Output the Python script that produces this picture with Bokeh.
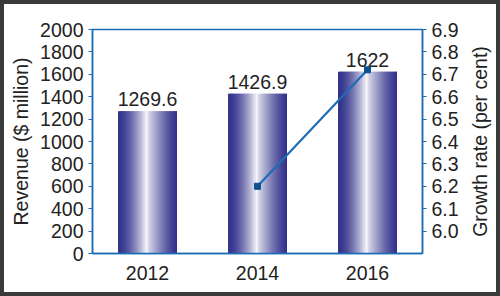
from bokeh.plotting import figure
from bokeh.layouts import row
from bokeh.models import (FactorRange, Range1d, LinearAxis, FixedTicker,
                          PrintfTickFormatter, ColumnDataSource, Title)
from bokeh.transform import dodge
from bokeh.core.properties import value
from bokeh.embed import file_html
from bokeh.resources import INLINE

years = ["2012", "2014", "2016"]
revenue = [1269.6, 1426.9, 1622.0]
revenue_labels = ["1269.6", "1426.9", "1622"]
growth_years = ["2014", "2016"]
growth = [6.2, 6.72]
left_ticks = [0, 200, 400, 600, 800, 1000, 1200, 1400, 1600, 1800, 2000]
right_ticks = [6.0, 6.1, 6.2, 6.3, 6.4, 6.5, 6.6, 6.7, 6.8, 6.9]
right_title = "Growth rate (per cent)"

FONT = "Liberation Sans"
FS = "19.5px"
AXIS_BLUE = "#1b6db5"
TEXT = "#222222"

p = figure(x_range=FactorRange(*years), y_range=Range1d(0, 2000),
           width=462, height=288, frame_width=330, frame_height=224,
           min_border_left=88, min_border_right=44, min_border_top=25, min_border_bottom=39,
           output_backend="svg", toolbar_location=None)
p.background_fill_color = "white"
p.border_fill_color = "white"
p.outline_line_color = AXIS_BLUE
p.outline_line_width = 1.5
p.xgrid.visible = False
p.ygrid.visible = False

src = ColumnDataSource(dict(year=years, revenue=revenue, label=revenue_labels))

# gradient bars as overlapping thin slices
BAR_W = 0.536
N = 40
dark = (50, 50, 140)
for i in range(N):
    t = (i + 0.5) / N
    if t < 0.5:
        w = (t / 0.5) ** 1.6
    else:
        w = 0.85 * ((1 - t) / 0.5) ** 1.3
    c = tuple(int(round(d + (255 - d) * w)) for d in dark)
    col = "#%02x%02x%02x" % c
    sw = BAR_W / N
    if i < N - 1:
        off = -BAR_W / 2 + i * sw + sw
        width = 2 * sw
    else:
        off = -BAR_W / 2 + (i + 0.5) * sw
        width = sw
    p.vbar(x=dodge("year", off, range=p.x_range), top="revenue", width=width,
           source=src, fill_color=col, line_color=None)

p.text(x="year", y="revenue", text="label", source=src, y_offset=-5,
       text_align="center", text_baseline="bottom",
       text_font=value(FONT), text_font_size=FS, text_color=TEXT)

# growth line on the right axis
p.extra_y_ranges = {"g": Range1d(5.9, 6.9)}
gsrc = ColumnDataSource(dict(year=growth_years, growth=growth))
p.line(x="year", y="growth", source=gsrc, y_range_name="g",
       line_color=AXIS_BLUE, line_width=2.2)
p.scatter(x="year", y="growth", source=gsrc, y_range_name="g", marker="square",
          size=6, fill_color="#0d4f91", line_color="#0d4f91")

raxis = LinearAxis(y_range_name="g", ticker=FixedTicker(ticks=right_ticks),
                   formatter=PrintfTickFormatter(format="%.1f"))
p.add_layout(raxis, "right")

for ax in [p.yaxis[0], raxis]:
    ax.axis_line_color = AXIS_BLUE
    ax.axis_line_width = 1.5
    ax.major_tick_line_color = AXIS_BLUE
    ax.major_tick_out = 4
    ax.major_tick_in = 0
    ax.minor_tick_line_color = None
    ax.major_label_text_font = FONT
    ax.major_label_text_font_size = FS
    ax.major_label_text_color = TEXT
    ax.major_label_standoff = 5
    ax.axis_label_text_font = FONT
    ax.axis_label_text_font_size = FS
    ax.axis_label_text_font_style = "normal"
    ax.axis_label_text_color = TEXT

p.yaxis[0].ticker = FixedTicker(ticks=left_ticks)
p.yaxis[0].axis_label = "Revenue ($ million)"
p.yaxis[0].axis_label_standoff = 5

xa = p.xaxis[0]
xa.axis_line_color = AXIS_BLUE
xa.axis_line_width = 1.5
xa.major_tick_line_color = None
xa.minor_tick_line_color = None
xa.major_label_text_font = FONT
xa.major_label_text_font_size = FS
xa.major_label_text_color = TEXT
xa.major_label_standoff = 6

# narrow companion figure carrying the right-hand title (reads bottom-to-top)
p2 = figure(width=30, height=288, min_border_left=3, min_border_right=0,
            min_border_top=25, min_border_bottom=39,
            output_backend="svg", toolbar_location=None)
p2.xaxis.visible = False
p2.yaxis.visible = False
p2.xgrid.visible = False
p2.ygrid.visible = False
p2.outline_line_color = None
p2.background_fill_color = "white"
p2.border_fill_color = "white"
p2.add_layout(Title(text=right_title, align="center", standoff=0,
                    text_font=FONT, text_font_size=FS, text_font_style="normal",
                    text_color=TEXT), "left")

layout = row(p, p2, styles={"border": "4px solid #3a3a3a", "background": "white"})

open("out.html", "w").write(file_html(layout, INLINE))
